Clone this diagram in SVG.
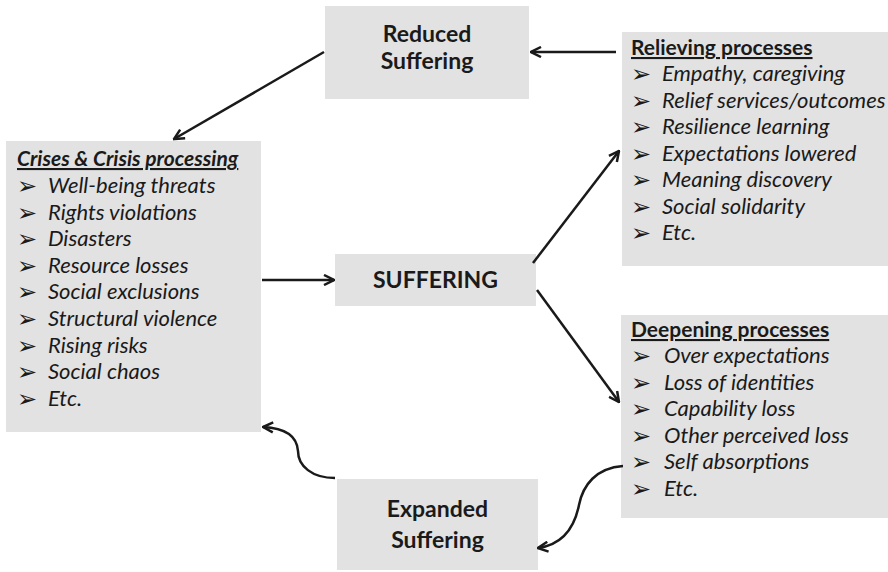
<svg xmlns="http://www.w3.org/2000/svg" width="888" height="572" viewBox="0 0 888 572">
<defs>
<style>
.box{fill:#e2e2e2;}
.big{font-family:Lato,"Liberation Sans",sans-serif;font-weight:bold;font-size:23px;fill:#1a1a1a;text-anchor:middle;}
.ttl{font-family:Lato,"Liberation Sans",sans-serif;font-weight:bold;font-size:21px;fill:#1a1a1a;text-decoration:underline;}
.it{font-family:Lato,"Liberation Sans",sans-serif;font-style:italic;font-size:22px;fill:#1a1a1a;}
.bul{font-family:"DejaVu Sans",sans-serif;font-size:24px;fill:#1a1a1a;}
.con{fill:none;stroke:#1a1a1a;stroke-width:2.5;}
</style>
<marker id="ah" viewBox="0 0 10 10" refX="9" refY="5" markerWidth="5" markerHeight="5" orient="auto" markerUnits="strokeWidth">
<path d="M1,1 L9,5 L1,9" fill="none" stroke="#1a1a1a" stroke-width="2"/>
</marker>
</defs>
<rect width="888" height="572" fill="#ffffff"/>

<g id="reduced">
<rect class="box" x="325" y="6" width="204" height="93"/>
<text class="big" x="427" y="42">Reduced</text>
<text class="big" x="427" y="69">Suffering</text>
</g>

<g id="relieving">
<rect class="box" x="622" y="32" width="266" height="234"/>
<text class="ttl" x="631" y="55">Relieving processes</text>
<g class="bul">
<text x="631" y="82">➢</text><text x="631" y="108.5">➢</text><text x="631" y="135">➢</text><text x="631" y="161.5">➢</text><text x="631" y="188">➢</text><text x="631" y="214.5">➢</text><text x="631" y="241">➢</text>
</g>
<text class="it" x="662" y="81">Empathy, caregiving</text>
<text class="it" x="662" y="107.5">Relief services/outcomes</text>
<text class="it" x="662" y="134">Resilience learning</text>
<text class="it" x="662" y="160.5">Expectations lowered</text>
<text class="it" x="662" y="187">Meaning discovery</text>
<text class="it" x="662" y="213.5">Social solidarity</text>
<text class="it" x="662" y="240">Etc.</text>
</g>

<g id="crises">
<rect class="box" x="6" y="141" width="255" height="291"/>
<text class="ttl" x="17" y="166" font-style="italic" font-size="22">Crises &amp; Crisis processing</text>
<g class="bul">
<text x="17" y="194">➢</text><text x="17" y="220.6">➢</text><text x="17" y="247.2">➢</text><text x="17" y="273.8">➢</text><text x="17" y="300.4">➢</text><text x="17" y="327">➢</text><text x="17" y="353.6">➢</text><text x="17" y="380.2">➢</text><text x="17" y="406.8">➢</text>
</g>
<text class="it" x="48" y="193">Well-being threats</text>
<text class="it" x="48" y="219.6">Rights violations</text>
<text class="it" x="48" y="246.2">Disasters</text>
<text class="it" x="48" y="272.8">Resource losses</text>
<text class="it" x="48" y="299.4">Social exclusions</text>
<text class="it" x="48" y="326">Structural violence</text>
<text class="it" x="48" y="352.6">Rising risks</text>
<text class="it" x="48" y="379.2">Social chaos</text>
<text class="it" x="48" y="405.8">Etc.</text>
</g>

<g id="suffering">
<rect class="box" x="335" y="254" width="201" height="52"/>
<text class="big" x="435.5" y="288">SUFFERING</text>
</g>

<g id="deepening">
<rect class="box" x="621" y="315" width="267" height="203"/>
<text class="ttl" x="631" y="337">Deepening processes</text>
<g class="bul">
<text x="631" y="364">➢</text><text x="631" y="390.6">➢</text><text x="631" y="417.2">➢</text><text x="631" y="443.8">➢</text><text x="631" y="470.4">➢</text><text x="631" y="497">➢</text>
</g>
<text class="it" x="664" y="363">Over expectations</text>
<text class="it" x="664" y="389.6">Loss of identities</text>
<text class="it" x="664" y="416.2">Capability loss</text>
<text class="it" x="664" y="442.8">Other perceived loss</text>
<text class="it" x="664" y="469.4">Self absorptions</text>
<text class="it" x="664" y="496">Etc.</text>
</g>

<g id="expanded">
<rect class="box" x="337" y="479" width="201" height="91"/>
<text class="big" x="437.5" y="517" font-size="24">Expanded</text>
<text class="big" x="437.5" y="548" font-size="24">Suffering</text>
</g>

<g id="connectors">
<line class="con" x1="616" y1="52" x2="531" y2="52" marker-end="url(#ah)"/>
<line class="con" x1="324" y1="52" x2="174" y2="139" marker-end="url(#ah)"/>
<line class="con" x1="262" y1="280" x2="334" y2="280" marker-end="url(#ah)"/>
<line class="con" x1="533" y1="263" x2="619" y2="151" marker-end="url(#ah)"/>
<line class="con" x1="537" y1="290" x2="619" y2="402" marker-end="url(#ah)"/>
<path class="con" d="M623,466 C596,468 583,485 579,505 C574,530 560,545 538,548" marker-end="url(#ah)"/>
<path class="con" d="M335,478 C312,478 298,466 298,451 C297,436 285,428 263,427" marker-end="url(#ah)"/>
</g>
</svg>
